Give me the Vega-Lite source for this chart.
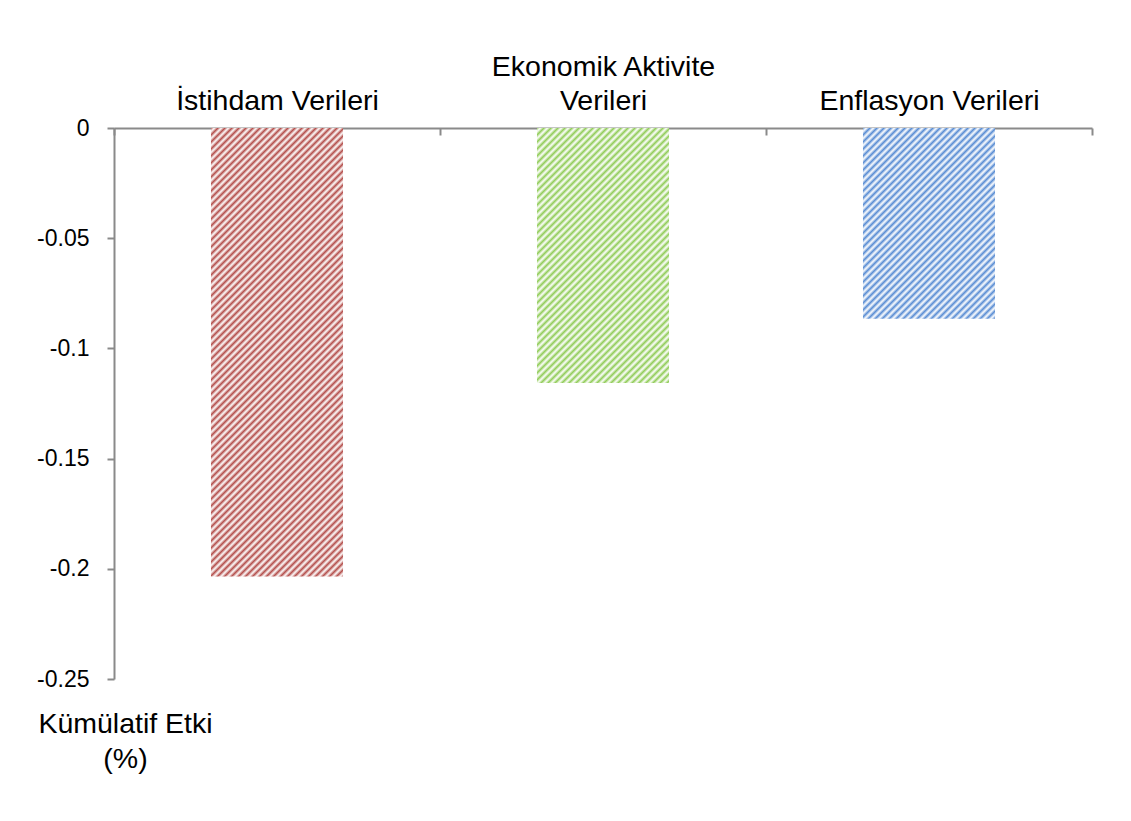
{
  "$schema": "https://vega.github.io/schema/vega-lite/v6.json",
  "autosize": {"type": "none"},
  "padding": {"left": 114, "top": 128, "right": 39, "bottom": 142},
  "width": 978,
  "height": 551,
  "background": "white",
  "config": {
    "view": {"stroke": null},
    "font": "Liberation Sans",
    "axis": {"grid": false, "domainColor": "#8a8a8a", "tickColor": "#8a8a8a", "domainWidth": 2, "tickWidth": 2, "labelColor": "#000000", "titleColor": "#000000", "labelFont": "Liberation Sans", "titleFont": "Liberation Sans", "labelLimit": 0}
  },
  "data": {
    "values": [
      {"kategori": "İstihdam Verileri", "etki": -0.2035},
      {"kategori": "Ekonomik Aktivite Verileri", "etki": -0.1157},
      {"kategori": "Enflasyon Verileri", "etki": -0.0865}
    ]
  },
  "encoding": {
    "x": {
      "field": "kategori", "type": "nominal", "sort": null,
      "scale": {"paddingInner": 0, "paddingOuter": 0},
      "axis": {
        "orient": "top", "title": null, "labelAngle": 0, "tickBand": "extent",
        "tickSize": -7, "labelPadding": 54, "labelFontSize": 28.5, "labelLineHeight": 34,
        "labelBaseline": "bottom", "labelOverlap": false,
        "labelExpr": "datum.value == 'Ekonomik Aktivite Verileri' ? ['Ekonomik Aktivite', 'Verileri'] : ['', datum.label]"
      }
    },
    "y": {
      "field": "etki", "type": "quantitative",
      "scale": {"domain": [-0.25, 0], "nice": false},
      "axis": {
        "values": [0, -0.05, -0.1, -0.15, -0.2, -0.25],
        "labelExpr": "'' + datum.value",
        "tickSize": 7, "labelPadding": 18, "labelFontSize": 23,
        "title": ["Kümülatif Etki", "(%)"],
        "titleAngle": 0, "titleAlign": "center", "titleBaseline": "alphabetic",
        "titleX": 11, "titleY": 604, "titleFontSize": 28.5, "titleFontWeight": "normal", "titleLineHeight": 35
      }
    }
  },
  "layer": [
    {
      "transform": [{"filter": "datum.kategori == 'İstihdam Verileri'"}],
      "mark": {"type": "bar", "width": {"band": 0.405},
        "fill": {"gradient": "linear", "x1": 0, "y1": 0, "x2": 0.42274, "y2": 1.43634, "stops": [
{"offset":0,"color":"#b5524f"},{"offset":0.005,"color":"#fff"},{"offset":0.01,"color":"#b5524f"},{"offset":0.015,"color":"#fff"},{"offset":0.02,"color":"#b5524f"},{"offset":0.025,"color":"#fff"},{"offset":0.03,"color":"#b5524f"},{"offset":0.035,"color":"#fff"},{"offset":0.04,"color":"#b5524f"},{"offset":0.045,"color":"#fff"},
{"offset":0.05,"color":"#b5524f"},{"offset":0.055,"color":"#fff"},{"offset":0.06,"color":"#b5524f"},{"offset":0.065,"color":"#fff"},{"offset":0.07,"color":"#b5524f"},{"offset":0.075,"color":"#fff"},{"offset":0.08,"color":"#b5524f"},{"offset":0.085,"color":"#fff"},{"offset":0.09,"color":"#b5524f"},{"offset":0.095,"color":"#fff"},
{"offset":0.1,"color":"#b5524f"},{"offset":0.105,"color":"#fff"},{"offset":0.11,"color":"#b5524f"},{"offset":0.115,"color":"#fff"},{"offset":0.12,"color":"#b5524f"},{"offset":0.125,"color":"#fff"},{"offset":0.13,"color":"#b5524f"},{"offset":0.135,"color":"#fff"},{"offset":0.14,"color":"#b5524f"},{"offset":0.145,"color":"#fff"},
{"offset":0.15,"color":"#b5524f"},{"offset":0.155,"color":"#fff"},{"offset":0.16,"color":"#b5524f"},{"offset":0.165,"color":"#fff"},{"offset":0.17,"color":"#b5524f"},{"offset":0.175,"color":"#fff"},{"offset":0.18,"color":"#b5524f"},{"offset":0.185,"color":"#fff"},{"offset":0.19,"color":"#b5524f"},{"offset":0.195,"color":"#fff"},
{"offset":0.2,"color":"#b5524f"},{"offset":0.205,"color":"#fff"},{"offset":0.21,"color":"#b5524f"},{"offset":0.215,"color":"#fff"},{"offset":0.22,"color":"#b5524f"},{"offset":0.225,"color":"#fff"},{"offset":0.23,"color":"#b5524f"},{"offset":0.235,"color":"#fff"},{"offset":0.24,"color":"#b5524f"},{"offset":0.245,"color":"#fff"},
{"offset":0.25,"color":"#b5524f"},{"offset":0.255,"color":"#fff"},{"offset":0.26,"color":"#b5524f"},{"offset":0.265,"color":"#fff"},{"offset":0.27,"color":"#b5524f"},{"offset":0.275,"color":"#fff"},{"offset":0.28,"color":"#b5524f"},{"offset":0.285,"color":"#fff"},{"offset":0.29,"color":"#b5524f"},{"offset":0.295,"color":"#fff"},
{"offset":0.3,"color":"#b5524f"},{"offset":0.305,"color":"#fff"},{"offset":0.31,"color":"#b5524f"},{"offset":0.315,"color":"#fff"},{"offset":0.32,"color":"#b5524f"},{"offset":0.325,"color":"#fff"},{"offset":0.33,"color":"#b5524f"},{"offset":0.335,"color":"#fff"},{"offset":0.34,"color":"#b5524f"},{"offset":0.345,"color":"#fff"},
{"offset":0.35,"color":"#b5524f"},{"offset":0.355,"color":"#fff"},{"offset":0.36,"color":"#b5524f"},{"offset":0.365,"color":"#fff"},{"offset":0.37,"color":"#b5524f"},{"offset":0.375,"color":"#fff"},{"offset":0.38,"color":"#b5524f"},{"offset":0.385,"color":"#fff"},{"offset":0.39,"color":"#b5524f"},{"offset":0.395,"color":"#fff"},
{"offset":0.4,"color":"#b5524f"},{"offset":0.405,"color":"#fff"},{"offset":0.41,"color":"#b5524f"},{"offset":0.415,"color":"#fff"},{"offset":0.42,"color":"#b5524f"},{"offset":0.425,"color":"#fff"},{"offset":0.43,"color":"#b5524f"},{"offset":0.435,"color":"#fff"},{"offset":0.44,"color":"#b5524f"},{"offset":0.445,"color":"#fff"},
{"offset":0.45,"color":"#b5524f"},{"offset":0.455,"color":"#fff"},{"offset":0.46,"color":"#b5524f"},{"offset":0.465,"color":"#fff"},{"offset":0.47,"color":"#b5524f"},{"offset":0.475,"color":"#fff"},{"offset":0.48,"color":"#b5524f"},{"offset":0.485,"color":"#fff"},{"offset":0.49,"color":"#b5524f"},{"offset":0.495,"color":"#fff"},
{"offset":0.5,"color":"#b5524f"},{"offset":0.505,"color":"#fff"},{"offset":0.51,"color":"#b5524f"},{"offset":0.515,"color":"#fff"},{"offset":0.52,"color":"#b5524f"},{"offset":0.525,"color":"#fff"},{"offset":0.53,"color":"#b5524f"},{"offset":0.535,"color":"#fff"},{"offset":0.54,"color":"#b5524f"},{"offset":0.545,"color":"#fff"},
{"offset":0.55,"color":"#b5524f"},{"offset":0.555,"color":"#fff"},{"offset":0.56,"color":"#b5524f"},{"offset":0.565,"color":"#fff"},{"offset":0.57,"color":"#b5524f"},{"offset":0.575,"color":"#fff"},{"offset":0.58,"color":"#b5524f"},{"offset":0.585,"color":"#fff"},{"offset":0.59,"color":"#b5524f"},{"offset":0.595,"color":"#fff"},
{"offset":0.6,"color":"#b5524f"},{"offset":0.605,"color":"#fff"},{"offset":0.61,"color":"#b5524f"},{"offset":0.615,"color":"#fff"},{"offset":0.62,"color":"#b5524f"},{"offset":0.625,"color":"#fff"},{"offset":0.63,"color":"#b5524f"},{"offset":0.635,"color":"#fff"},{"offset":0.64,"color":"#b5524f"},{"offset":0.645,"color":"#fff"},
{"offset":0.65,"color":"#b5524f"},{"offset":0.655,"color":"#fff"},{"offset":0.66,"color":"#b5524f"},{"offset":0.665,"color":"#fff"},{"offset":0.67,"color":"#b5524f"},{"offset":0.675,"color":"#fff"},{"offset":0.68,"color":"#b5524f"},{"offset":0.685,"color":"#fff"},{"offset":0.69,"color":"#b5524f"},{"offset":0.695,"color":"#fff"},
{"offset":0.7,"color":"#b5524f"},{"offset":0.705,"color":"#fff"},{"offset":0.71,"color":"#b5524f"},{"offset":0.715,"color":"#fff"},{"offset":0.72,"color":"#b5524f"},{"offset":0.725,"color":"#fff"},{"offset":0.73,"color":"#b5524f"},{"offset":0.735,"color":"#fff"},{"offset":0.74,"color":"#b5524f"},{"offset":0.745,"color":"#fff"},
{"offset":0.75,"color":"#b5524f"},{"offset":0.755,"color":"#fff"},{"offset":0.76,"color":"#b5524f"},{"offset":0.765,"color":"#fff"},{"offset":0.77,"color":"#b5524f"},{"offset":0.775,"color":"#fff"},{"offset":0.78,"color":"#b5524f"},{"offset":0.785,"color":"#fff"},{"offset":0.79,"color":"#b5524f"},{"offset":0.795,"color":"#fff"},
{"offset":0.8,"color":"#b5524f"},{"offset":0.805,"color":"#fff"},{"offset":0.81,"color":"#b5524f"},{"offset":0.815,"color":"#fff"},{"offset":0.82,"color":"#b5524f"},{"offset":0.825,"color":"#fff"},{"offset":0.83,"color":"#b5524f"},{"offset":0.835,"color":"#fff"},{"offset":0.84,"color":"#b5524f"},{"offset":0.845,"color":"#fff"},
{"offset":0.85,"color":"#b5524f"}
        ]}}
    },
    {
      "transform": [{"filter": "datum.kategori == 'Ekonomik Aktivite Verileri'"}],
      "mark": {"type": "bar", "width": {"band": 0.405},
        "fill": {"gradient": "linear", "x1": 0, "y1": 0, "x2": 1.12069, "y2": 2.16497, "stops": [
{"offset":0,"color":"#93cd5c"},{"offset":0.005,"color":"#fff"},{"offset":0.01,"color":"#93cd5c"},{"offset":0.015,"color":"#fff"},{"offset":0.02,"color":"#93cd5c"},{"offset":0.025,"color":"#fff"},{"offset":0.03,"color":"#93cd5c"},{"offset":0.035,"color":"#fff"},{"offset":0.04,"color":"#93cd5c"},{"offset":0.045,"color":"#fff"},
{"offset":0.05,"color":"#93cd5c"},{"offset":0.055,"color":"#fff"},{"offset":0.06,"color":"#93cd5c"},{"offset":0.065,"color":"#fff"},{"offset":0.07,"color":"#93cd5c"},{"offset":0.075,"color":"#fff"},{"offset":0.08,"color":"#93cd5c"},{"offset":0.085,"color":"#fff"},{"offset":0.09,"color":"#93cd5c"},{"offset":0.095,"color":"#fff"},
{"offset":0.1,"color":"#93cd5c"},{"offset":0.105,"color":"#fff"},{"offset":0.11,"color":"#93cd5c"},{"offset":0.115,"color":"#fff"},{"offset":0.12,"color":"#93cd5c"},{"offset":0.125,"color":"#fff"},{"offset":0.13,"color":"#93cd5c"},{"offset":0.135,"color":"#fff"},{"offset":0.14,"color":"#93cd5c"},{"offset":0.145,"color":"#fff"},
{"offset":0.15,"color":"#93cd5c"},{"offset":0.155,"color":"#fff"},{"offset":0.16,"color":"#93cd5c"},{"offset":0.165,"color":"#fff"},{"offset":0.17,"color":"#93cd5c"},{"offset":0.175,"color":"#fff"},{"offset":0.18,"color":"#93cd5c"},{"offset":0.185,"color":"#fff"},{"offset":0.19,"color":"#93cd5c"},{"offset":0.195,"color":"#fff"},
{"offset":0.2,"color":"#93cd5c"},{"offset":0.205,"color":"#fff"},{"offset":0.21,"color":"#93cd5c"},{"offset":0.215,"color":"#fff"},{"offset":0.22,"color":"#93cd5c"},{"offset":0.225,"color":"#fff"},{"offset":0.23,"color":"#93cd5c"},{"offset":0.235,"color":"#fff"},{"offset":0.24,"color":"#93cd5c"},{"offset":0.245,"color":"#fff"},
{"offset":0.25,"color":"#93cd5c"},{"offset":0.255,"color":"#fff"},{"offset":0.26,"color":"#93cd5c"},{"offset":0.265,"color":"#fff"},{"offset":0.27,"color":"#93cd5c"},{"offset":0.275,"color":"#fff"},{"offset":0.28,"color":"#93cd5c"},{"offset":0.285,"color":"#fff"},{"offset":0.29,"color":"#93cd5c"},{"offset":0.295,"color":"#fff"},
{"offset":0.3,"color":"#93cd5c"},{"offset":0.305,"color":"#fff"},{"offset":0.31,"color":"#93cd5c"},{"offset":0.315,"color":"#fff"},{"offset":0.32,"color":"#93cd5c"},{"offset":0.325,"color":"#fff"},{"offset":0.33,"color":"#93cd5c"},{"offset":0.335,"color":"#fff"},{"offset":0.34,"color":"#93cd5c"},{"offset":0.345,"color":"#fff"},
{"offset":0.35,"color":"#93cd5c"},{"offset":0.355,"color":"#fff"},{"offset":0.36,"color":"#93cd5c"},{"offset":0.365,"color":"#fff"},{"offset":0.37,"color":"#93cd5c"},{"offset":0.375,"color":"#fff"},{"offset":0.38,"color":"#93cd5c"},{"offset":0.385,"color":"#fff"},{"offset":0.39,"color":"#93cd5c"},{"offset":0.395,"color":"#fff"},
{"offset":0.4,"color":"#93cd5c"},{"offset":0.405,"color":"#fff"},{"offset":0.41,"color":"#93cd5c"},{"offset":0.415,"color":"#fff"},{"offset":0.42,"color":"#93cd5c"},{"offset":0.425,"color":"#fff"},{"offset":0.43,"color":"#93cd5c"},{"offset":0.435,"color":"#fff"},{"offset":0.44,"color":"#93cd5c"},{"offset":0.445,"color":"#fff"},
{"offset":0.45,"color":"#93cd5c"},{"offset":0.455,"color":"#fff"},{"offset":0.46,"color":"#93cd5c"},{"offset":0.465,"color":"#fff"},{"offset":0.47,"color":"#93cd5c"},{"offset":0.475,"color":"#fff"},{"offset":0.48,"color":"#93cd5c"},{"offset":0.485,"color":"#fff"},{"offset":0.49,"color":"#93cd5c"},{"offset":0.495,"color":"#fff"},
{"offset":0.5,"color":"#93cd5c"},{"offset":0.505,"color":"#fff"},{"offset":0.51,"color":"#93cd5c"},{"offset":0.515,"color":"#fff"},{"offset":0.52,"color":"#93cd5c"},{"offset":0.525,"color":"#fff"},{"offset":0.53,"color":"#93cd5c"},{"offset":0.535,"color":"#fff"},{"offset":0.54,"color":"#93cd5c"},{"offset":0.545,"color":"#fff"},
{"offset":0.55,"color":"#93cd5c"},{"offset":0.555,"color":"#fff"},{"offset":0.56,"color":"#93cd5c"}
        ]}}
    },
    {
      "transform": [{"filter": "datum.kategori == 'Enflasyon Verileri'"}],
      "mark": {"type": "bar", "width": {"band": 0.405},
        "fill": {"gradient": "linear", "x1": 0, "y1": 0, "x2": 1.719, "y2": 2.48213, "stops": [
{"offset":0,"color":"#5b8ed4"},{"offset":0.005,"color":"#fff"},{"offset":0.01,"color":"#5b8ed4"},{"offset":0.015,"color":"#fff"},{"offset":0.02,"color":"#5b8ed4"},{"offset":0.025,"color":"#fff"},{"offset":0.03,"color":"#5b8ed4"},{"offset":0.035,"color":"#fff"},{"offset":0.04,"color":"#5b8ed4"},{"offset":0.045,"color":"#fff"},
{"offset":0.05,"color":"#5b8ed4"},{"offset":0.055,"color":"#fff"},{"offset":0.06,"color":"#5b8ed4"},{"offset":0.065,"color":"#fff"},{"offset":0.07,"color":"#5b8ed4"},{"offset":0.075,"color":"#fff"},{"offset":0.08,"color":"#5b8ed4"},{"offset":0.085,"color":"#fff"},{"offset":0.09,"color":"#5b8ed4"},{"offset":0.095,"color":"#fff"},
{"offset":0.1,"color":"#5b8ed4"},{"offset":0.105,"color":"#fff"},{"offset":0.11,"color":"#5b8ed4"},{"offset":0.115,"color":"#fff"},{"offset":0.12,"color":"#5b8ed4"},{"offset":0.125,"color":"#fff"},{"offset":0.13,"color":"#5b8ed4"},{"offset":0.135,"color":"#fff"},{"offset":0.14,"color":"#5b8ed4"},{"offset":0.145,"color":"#fff"},
{"offset":0.15,"color":"#5b8ed4"},{"offset":0.155,"color":"#fff"},{"offset":0.16,"color":"#5b8ed4"},{"offset":0.165,"color":"#fff"},{"offset":0.17,"color":"#5b8ed4"},{"offset":0.175,"color":"#fff"},{"offset":0.18,"color":"#5b8ed4"},{"offset":0.185,"color":"#fff"},{"offset":0.19,"color":"#5b8ed4"},{"offset":0.195,"color":"#fff"},
{"offset":0.2,"color":"#5b8ed4"},{"offset":0.205,"color":"#fff"},{"offset":0.21,"color":"#5b8ed4"},{"offset":0.215,"color":"#fff"},{"offset":0.22,"color":"#5b8ed4"},{"offset":0.225,"color":"#fff"},{"offset":0.23,"color":"#5b8ed4"},{"offset":0.235,"color":"#fff"},{"offset":0.24,"color":"#5b8ed4"},{"offset":0.245,"color":"#fff"},
{"offset":0.25,"color":"#5b8ed4"},{"offset":0.255,"color":"#fff"},{"offset":0.26,"color":"#5b8ed4"},{"offset":0.265,"color":"#fff"},{"offset":0.27,"color":"#5b8ed4"},{"offset":0.275,"color":"#fff"},{"offset":0.28,"color":"#5b8ed4"},{"offset":0.285,"color":"#fff"},{"offset":0.29,"color":"#5b8ed4"},{"offset":0.295,"color":"#fff"},
{"offset":0.3,"color":"#5b8ed4"},{"offset":0.305,"color":"#fff"},{"offset":0.31,"color":"#5b8ed4"},{"offset":0.315,"color":"#fff"},{"offset":0.32,"color":"#5b8ed4"},{"offset":0.325,"color":"#fff"},{"offset":0.33,"color":"#5b8ed4"},{"offset":0.335,"color":"#fff"},{"offset":0.34,"color":"#5b8ed4"},{"offset":0.345,"color":"#fff"},
{"offset":0.35,"color":"#5b8ed4"},{"offset":0.355,"color":"#fff"},{"offset":0.36,"color":"#5b8ed4"},{"offset":0.365,"color":"#fff"},{"offset":0.37,"color":"#5b8ed4"},{"offset":0.375,"color":"#fff"},{"offset":0.38,"color":"#5b8ed4"},{"offset":0.385,"color":"#fff"},{"offset":0.39,"color":"#5b8ed4"},{"offset":0.395,"color":"#fff"},
{"offset":0.4,"color":"#5b8ed4"},{"offset":0.405,"color":"#fff"},{"offset":0.41,"color":"#5b8ed4"},{"offset":0.415,"color":"#fff"},{"offset":0.42,"color":"#5b8ed4"},{"offset":0.425,"color":"#fff"},{"offset":0.43,"color":"#5b8ed4"},{"offset":0.435,"color":"#fff"},{"offset":0.44,"color":"#5b8ed4"},{"offset":0.445,"color":"#fff"},
{"offset":0.45,"color":"#5b8ed4"},{"offset":0.455,"color":"#fff"},{"offset":0.46,"color":"#5b8ed4"},{"offset":0.465,"color":"#fff"},{"offset":0.47,"color":"#5b8ed4"}
        ]}}
    }
  ]
}
